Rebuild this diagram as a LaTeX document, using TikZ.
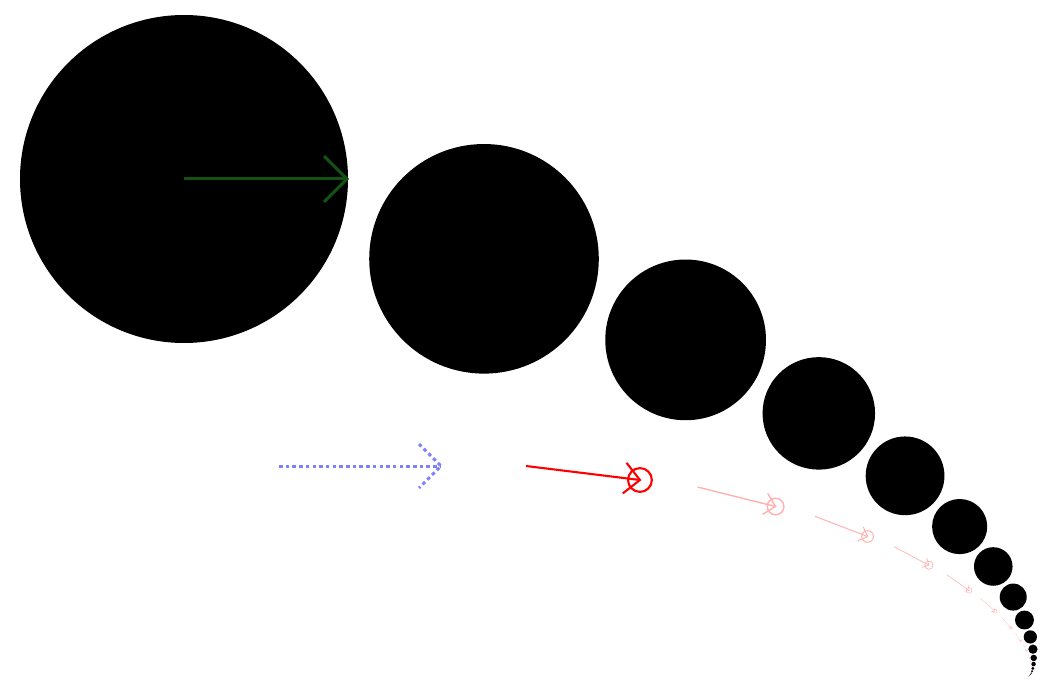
\documentclass[tikz,border=0pt]{standalone}
\begin{document}
\begin{tikzpicture}[x=1pt,y=-1pt,
  greenarrow/.style={draw={rgb,255:red,18;green,82;blue,18}, line width=3pt},
  bluearrow/.style={draw={rgb,255:red,128;green,128;blue,255}, line width=3pt, dash pattern=on 3.5pt off 3.2pt},
  ballfill/.style={fill=black}]
\useasboundingbox (0,0) rectangle (1050,690);
% shrinking balls
\gdef\cx{184}\gdef\cy{179}\gdef\cr{164}\gdef\ca{14.9}
\foreach \k in {0,...,22}{
  \fill[ballfill] (\cx,\cy) circle[radius=\cr];
  \pgfmathsetmacro\nx{\cx+1.893*\cr*cos(\ca)}
  \pgfmathsetmacro\ny{\cy+1.893*\cr*sin(\ca)}
  \pgfmathsetmacro\nr{0.7*\cr}
  \pgfmathsetmacro\na{\ca+7}
  \xdef\cx{\nx}\xdef\cy{\ny}\xdef\cr{\nr}\xdef\ca{\na}
}
% green arrow
\draw[greenarrow] (184,179) -- (347,179);
\draw[greenarrow] (324,156) -- (347,179) -- (324,202);
% blue dotted arrow
\draw[bluearrow] (279,466) -- (441,466);
\draw[bluearrow] (419,444) -- (441,466) -- (419,488);
% red and fading arrows
\gdef\sx{526}\gdef\sy{466}
\foreach \k in {1,...,14}{
  \pgfmathsetmacro\s{0.7^\k}
  \pgfmathsetmacro\L{164*\s}
  \pgfmathsetmacro\th{7*\k}
  \pgfmathsetmacro\c{cos(\th)}
  \pgfmathsetmacro\sn{sin(\th)}
  \pgfmathsetmacro\ex{\sx+\L*\c}
  \pgfmathsetmacro\ey{\sy+\L*\sn}
  \pgfmathsetmacro\b{22*\s}
  \pgfmathsetmacro\pax{\ex-\b*\c+\b*\sn}
  \pgfmathsetmacro\pay{\ey-\b*\sn-\b*\c}
  \pgfmathsetmacro\pbx{\ex-\b*\c-\b*\sn}
  \pgfmathsetmacro\pby{\ey-\b*\sn+\b*\c}
  \pgfmathsetmacro\lw{3*\s}
  \pgfmathsetmacro\rr{17*\s}
  \ifnum\k=1 \def\col{red}\else\def\col{red!30}\fi
  \draw[draw=\col, line width=\lw pt] (\sx,\sy) -- (\ex,\ey);
  \draw[draw=\col, line width=\lw pt] (\pax,\pay) -- (\ex,\ey) -- (\pbx,\pby);
  \draw[draw=\col, line width=\lw pt] (\ex,\ey) circle[radius=\rr];
  \pgfmathsetmacro\nsx{\sx+247*\s*\c}
  \pgfmathsetmacro\nsy{\sy+247*\s*\sn}
  \xdef\sx{\nsx}\xdef\sy{\nsy}
}
\end{tikzpicture}
\end{document}
